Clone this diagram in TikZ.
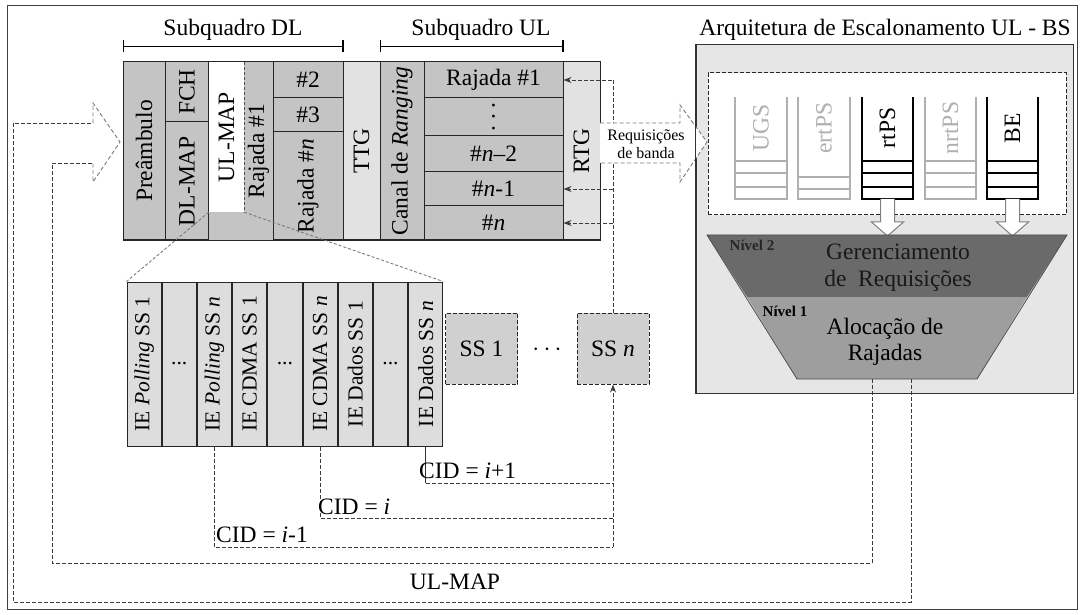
\documentclass[tikz,border=0pt]{standalone}
\usepackage{fontspec}
\setmainfont{Liberation Serif}
\usepackage{graphicx}
\usetikzlibrary{arrows.meta,positioning}

\definecolor{cellgray}{HTML}{C4C4C4}
\definecolor{gaplight}{HTML}{E2E2E2}
\definecolor{iegray}{HTML}{DDDDDD}
\definecolor{ssgray}{HTML}{D0D0D0}
\definecolor{panelgray}{HTML}{E6E6E6}
\definecolor{levtwo}{HTML}{6A6A6A}
\definecolor{levone}{HTML}{9E9E9E}
\definecolor{qgray}{HTML}{B0B0B0}
\definecolor{linkgray}{HTML}{3C3C3C}
\definecolor{arrowgray}{HTML}{7A7A7A}

\begin{document}
\begin{tikzpicture}[x=1pt,y=-1pt,>={Stealth[length=8pt,width=6pt]},
  every node/.style={font=\fontsize{23.5}{27}\selectfont,inner sep=0pt},
  cell/.style={draw=black!85,line width=1pt,fill=cellgray},
  gapcell/.style={cell,fill=gaplight},
  iecell/.style={cell,fill=iegray,minimum width=34.2pt,minimum height=164pt,font=\fontsize{21.5}{24}\selectfont},
  ssbox/.style={draw=black!85,line width=1pt,dash pattern=on 4pt off 2pt,fill=ssgray,minimum width=72pt,minimum height=71pt},
  link/.style={draw=linkgray,line width=0.9pt,dash pattern=on 4pt off 2pt},
  blockarrow/.style={draw=arrowgray,line width=0.9pt,dash pattern=on 4pt off 2.5pt},
  zoomline/.style={draw=arrowgray,line width=0.9pt,dash pattern=on 3pt off 2pt},
  queueline/.style={line width=1.2pt},
  hollowarrow/.style={draw=gray,fill=white,line width=1pt},
  spanbar/.style={{Bar[width=12pt]}-{Bar[width=12pt]},line width=1.2pt}]

    \useasboundingbox (0,0) rectangle (1080,615);
    \draw[black!75,line width=1pt] (7,6) rectangle (1077,609);

    % quadro: subquadro DL
    \node[cell,minimum width=42pt,minimum height=178pt] (pre) at (144,151) {\rotatebox{90}{Preâmbulo}};
    \node[cell,minimum width=44pt,minimum height=60pt] (fch) at (187,92) {\rotatebox{90}{FCH}};
    \node[cell,minimum width=44pt,minimum height=118pt] (dlmap) at (187,181) {\rotatebox{90}{DL-MAP}};
    \node[fill=cellgray,minimum width=64pt,minimum height=178pt] (ulbg) at (241,151) {};
    \node[fill=white,minimum width=35pt,minimum height=150pt] (ulmap) at (226.5,137) {\rotatebox{90}{UL-MAP}};
    \node (rajone) at (258.5,151) {\rotatebox{90}{Rajada \#1}};
    \draw[black!85,line width=1pt] (ulbg.north west) rectangle (ulbg.south east);
    \draw[black!70,dash pattern=on 3pt off 2pt] (ulmap.north east) -- (ulmap.south east);
    \node[cell,minimum width=70pt,minimum height=36pt] (rtwo) at (308,80) {\#2};
    \node[cell,minimum width=70pt,minimum height=34pt] (rthree) at (308,115) {\#3};
    \node[cell,minimum width=70pt,minimum height=108pt] (rn) at (308,186) {\rotatebox{90}{Rajada \#\textit{n}}};

    % TTG e subquadro UL
    \node[gapcell,minimum width=37pt,minimum height=178pt] (ttg) at (361.5,151) {\rotatebox{90}{TTG}};
    \node[cell,minimum width=44pt,minimum height=178pt] (canal) at (402,151) {\rotatebox{90}{Canal de \textit{Ranging}}};
    \node[cell,minimum width=139pt,minimum height=36pt] (bone) at (493.5,80) {Rajada \#1};
    \node[cell,minimum width=139pt,minimum height=38pt] (bdots) at (493.5,117) {\rotatebox{90}{.\hspace{6pt}.\hspace{6pt}.}};
    \node[cell,minimum width=139pt,minimum height=36pt] (bntwo) at (493.5,154) {\#\textit{n}--2};
    \node[cell,minimum width=139pt,minimum height=34pt] (bnone) at (493.5,189) {\#\textit{n}-1};
    \node[cell,minimum width=139pt,minimum height=34pt] (bn) at (493.5,223) {\#\textit{n}};
    \node[gapcell,minimum width=37pt,minimum height=178pt] (rtg) at (581.5,151) {\rotatebox{90}{RTG}};

    \draw[spanbar] ([yshift=15pt]pre.north west) -- ([yshift=15pt]rtwo.north east);
    \draw[spanbar] ([yshift=15pt]canal.north west) -- ([yshift=15pt]bone.north east);
    \node (dltitle) at (233,30) {Subquadro DL};
    \node (ultitle) at (481,30) {Subquadro UL};

    % IEs do UL-MAP
    \node[iecell] (ie1) at (144.1,364) {\rotatebox{90}{IE \textit{Polling} SS 1}};
    \node[iecell,right=0pt of ie1] (ie2) {...};
    \node[iecell,right=0pt of ie2] (ie3) {\rotatebox{90}{IE \textit{Polling} SS \textit{n}}};
    \node[iecell,right=0pt of ie3] (ie4) {\rotatebox{90}{IE CDMA SS 1}};
    \node[iecell,right=0pt of ie4] (ie5) {...};
    \node[iecell,right=0pt of ie5] (ie6) {\rotatebox{90}{IE CDMA SS \textit{n}}};
    \node[iecell,right=0pt of ie6] (ie7) {\rotatebox{90}{IE Dados SS 1}};
    \node[iecell,right=0pt of ie7] (ie8) {...};
    \node[iecell,right=0pt of ie8] (ie9) {\rotatebox{90}{IE Dados SS \textit{n}}};
    \draw[zoomline] (ulmap.south west) -- (ie1.north west);
    \draw[zoomline] (ulmap.south east) -- (ie9.north east);

    % estacoes
    \node[ssbox] (ssone) at (481.5,348.5) {SS 1};
    \node[ssbox] (ssn) at (613,348.5) {SS \textit{n}};
    \node (ssdots) at (547,350) {$\cdots$};

    \draw[link,->] (ssn.north) |- (bone.east);
    \draw[link,->] (ssn.north |- bnone.east) -- (bnone.east);
    \draw[link,->] (ssn.north |- bn.east) -- (bn.east);

    \coordinate (cidone) at (613,483);
    \coordinate (cidtwo) at (613,518);
    \coordinate (cidthree) at (613,547);
    \draw[black!80,line width=0.9pt] (ie9.south) -- (ie9.south |- cidone);
    \draw[link] (ie9.south |- cidone) -- (cidone);
    \draw[link] (ie6.south) |- (cidtwo);
    \draw[link] (ie3.south) |- (cidthree);
    \draw[link,->] (cidthree) -- (ssn.south);
    \node[anchor=west] (cidlone) at (419,471) {CID = \textit{i}+1};
    \node[anchor=west] (cidltwo) at (318,507) {CID = \textit{i}};
    \node[anchor=west] (cidlthree) at (216,535) {CID = \textit{i}-1};

    % arquitetura da BS
    \node[draw=black!80,line width=1pt,fill=panelgray,minimum width=377pt,minimum height=348pt] (bs) at (884.5,219) {};
    \node (bstitle) at (885,30) {Arquitetura de Escalonamento UL - BS};
    \node[draw=black!85,fill=white,line width=1pt,dash pattern=on 4pt off 2pt,minimum width=358pt,minimum height=142pt] (qbox) at (887,144) {};

    \draw[queueline,qgray] (735,97) -- (735,199) -- (787,199) -- (787,97) (735,161) -- (787,161) (735,173) -- (787,173) (735,187) -- (787,187);
    \draw[queueline,qgray] (798,97) -- (798,199) -- (850,199) -- (850,97) (798,177) -- (850,177) (798,189) -- (850,189);
    \draw[queueline] (862,97) -- (862,199) -- (913,199) -- (913,97) (862,161) -- (913,161) (862,173) -- (913,173) (862,187) -- (913,187);
    \draw[queueline,qgray] (925,97) -- (925,199) -- (976,199) -- (976,97) (925,161) -- (976,161) (925,173) -- (976,173) (925,187) -- (976,187);
    \draw[queueline] (987,97) -- (987,199) -- (1038,199) -- (1038,97) (987,161) -- (1038,161) (987,173) -- (1038,173) (987,187) -- (1038,187);
    \node[text=qgray] (ugs) at (761,128) {\rotatebox{90}{UGS}};
    \node[text=qgray] (ertps) at (824,128) {\rotatebox{90}{ertPS}};
    \node (rtps) at (887.5,128) {\rotatebox{90}{rtPS}};
    \node[text=qgray] (nrtps) at (950.5,128) {\rotatebox{90}{nrtPS}};
    \node (be) at (1012.5,128) {\rotatebox{90}{BE}};

    \coordinate (rtpsout) at (887.5,199);
    \coordinate (beout) at (1012.5,199);
    \draw[hollowarrow] (rtpsout) ++(-7,0) -- ++(0,23) -- ++(-9,0) -- ++(16,14) -- ++(16,-14) -- ++(-9,0) -- ++(0,-23);
    \draw[hollowarrow] (beout) ++(-7,0) -- ++(0,23) -- ++(-9,0) -- ++(16,14) -- ++(16,-14) -- ++(-9,0) -- ++(0,-23);

    \fill[levtwo] (707,235) -- (1067,235) -- (1027,297) -- (747,297) -- cycle;
    \fill[levone] (747,297) -- (1027,297) -- (977,379) -- (797,379) -- cycle;
    \draw[black!70,line width=0.8pt] (707,235) -- (1067,235) -- (977,379) -- (797,379) -- cycle;
    \node[font=\bfseries\fontsize{15}{17}\selectfont,text=black!85] (nivtwo) at (752,245) {Nível 2};
    \node[font=\bfseries\fontsize{15}{17}\selectfont] (nivone) at (785,311) {Nível 1};
    \node[align=center,font=\fontsize{23.5}{27}\selectfont,text=black!90] (gerreq) at (898,268) {Gerenciamento\\de\enspace Requisições};
    \node[align=center,font=\fontsize{23.5}{26}\selectfont] (alocraj) at (885,342) {Alocação de\\Rajadas};

    % requisicoes de banda
    \coordinate (reqa) at (600,123);
    \coordinate (reqb) at (600,163);
    \fill[white] (reqa) -- (680,123) -- (680,105) -- (707,142) -- (680,182) -- (680,163) -- (reqb) -- cycle;
    \draw[blockarrow] (reqa) -- (680,123) -- (680,105) -- (707,142) -- (680,182) -- (680,163) -- (reqb);
    \draw[black!80,line width=1pt] (bs.north west) -- (bs.south west);
    \node[align=center,font=\fontsize{16}{18}\selectfont] (req) at (646,144) {Requisições\\de banda};

    % UL-MAP de volta ao quadro
    \coordinate (trapa) at (872,379);
    \coordinate (trapb) at (911,379);
    \coordinate (ulin) at (93,163);
    \coordinate (ulout) at (93,123);
    \draw[link] (trapa) |- (52,563) |- (ulin);
    \draw[link] (trapb) |- (13,602) |- (ulout);
    \draw[blockarrow] (ulout) -- (93,103) -- (120,142) -- (93,182) -- (ulin);
    \node (ulmaplbl) at (455,582) {UL-MAP};

\end{tikzpicture}
\end{document}
